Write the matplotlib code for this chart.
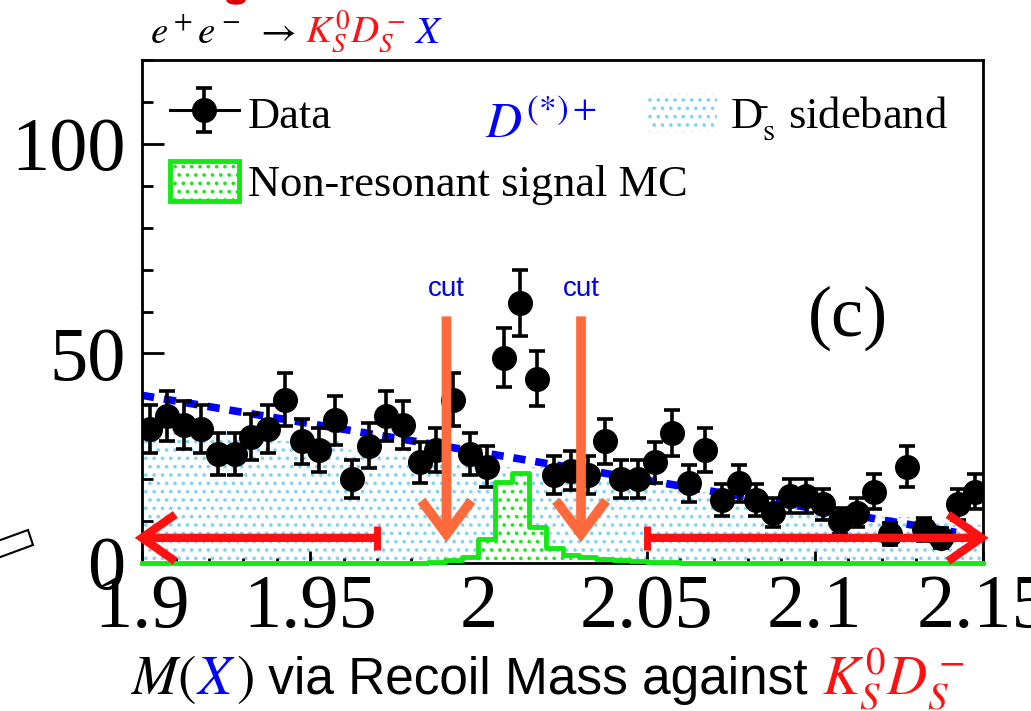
import numpy as np
import matplotlib
matplotlib.use("Agg")
import matplotlib.pyplot as plt
from matplotlib.patches import FancyArrowPatch, Patch, Polygon, Ellipse
from matplotlib.ticker import MultipleLocator, FixedLocator

plt.rcParams['mathtext.fontset'] = 'stix'
plt.rcParams['hatch.linewidth'] = 1.4

# ---- data ----
edge_lo = 1.90
bin_w = 0.005
counts = [32, 35, 33, 32, 26, 26, 30, 32, 39, 29, 27, 34, 20, 28, 35, 33, 24, 27, 39, 26,
          23, 49, 62, 44, 21, 22, 21, 29, 20, 20, 24, 31, 19, 27, 15, 19, 15, 12, 16, 16,
          14, 10, 12, 17, 7, 23, 8, 6, 14, 17]
sideband = [34, 33, 34, 32, 31, 32, 30, 31, 29, 30, 28, 29, 27, 28, 26, 27, 25, 26, 24, 25,
            23, 23, 22, 23, 21, 21, 20, 21, 19, 19, 18, 19, 17, 17, 16, 17, 15, 15, 14, 14,
            13, 13, 12, 12, 11, 11, 10, 10, 9, 9]
mc = [0, 0, 0, 0, 0, 0, 0, 0, 0, 0, 0, 0, 0, 0, 0, 0, 0, 0.3, 0.8, 1.5,
      5.7, 19.3, 21.4, 8.6, 3.6, 1.9, 1.4, 1.0, 0.7, 0.5, 0.3, 0.2, 0.1, 0, 0, 0, 0, 0, 0, 0,
      0, 0, 0, 0, 0, 0, 0, 0, 0, 0]
fit_x = [1.900, 2.142]
fit_y = [40.0, 7.3]
cut_x = [1.9905, 2.0305]
cut_top, cut_bottom = 59.5, 4.3
side_lo = [1.970, 1.8970]   # left region arrow: bar end, tip
side_hi = [2.050, 2.1525]   # right region arrow: bar end, tip
side_y = 6.0

n = len(counts)
edges = edge_lo + bin_w * np.arange(n + 1)
centers = edges[:-1] + bin_w / 2
counts = np.array(counts, float)
errs = np.sqrt(counts)

W, H = 1031, 711
fig = plt.figure(figsize=(W / 100, H / 100), dpi=100)
ax = fig.add_axes([142 / W, 1 - 563 / H, (983 - 142) / W, (563 - 60) / H])
ax.set_xlim(1.9, 2.15)
ax.set_ylim(0, 120)

blue_dot = '#7fd3f3'
green = '#16e816'
orange = '#ff6a3d'
red = '#ff1111'

# sideband histogram (dotted light blue)
sb = np.append(sideband, sideband[-1])
ax.fill_between(edges, 0, sb, step='post', facecolor='white', edgecolor=blue_dot,
                hatch='..', linewidth=0, zorder=1)

# signal MC histogram (green outline, green dots)
mcv = np.append(mc, mc[-1])
ax.fill_between(edges, 0, mcv, step='post', facecolor='white', edgecolor=green,
                hatch='..', linewidth=0, zorder=2)
ax.step(edges, mcv, where='post', color=green, lw=3.5, zorder=6, clip_on=False)

# fit line
ax.plot(fit_x, fit_y, color='#0000ff', lw=5.5, linestyle=(0, (1.6, 1.3)),
        solid_capstyle='butt', dash_capstyle='butt', zorder=3)

# data points
ax.errorbar(centers, counts, yerr=errs, fmt='o', color='black', ms=17, elinewidth=2.6,
            capsize=6, capthick=2.6, zorder=5)
ax.errorbar([np.nan], [np.nan], yerr=[1], fmt='o-', color='black', ms=17, lw=2.2,
            elinewidth=2.6, capsize=6, capthick=2.6, label='Data')

# cut arrows
for cx in cut_x:
    a = FancyArrowPatch((cx, cut_top), (cx, cut_bottom),
                        arrowstyle='->,head_length=0.6,head_width=0.45',
                        mutation_scale=40, lw=7, color=orange, zorder=7,
                        joinstyle='miter', capstyle='butt')
    ax.add_patch(a)
    ax.text(cx, 63.8, 'cut', color='#0000ee', fontsize=20, family='Liberation Sans',
            ha='center', va='baseline')

# side region arrows
for (bx, tx) in [side_lo, side_hi]:
    a = FancyArrowPatch((bx, side_y), (tx, side_y),
                        arrowstyle='->,head_length=0.6,head_width=0.42',
                        mutation_scale=40, lw=6.0, color=red, zorder=8, clip_on=False,
                        joinstyle='miter', capstyle='butt')
    ax.add_patch(a)
    ax.plot([bx, bx], [3.2, 8.8], color=red, lw=5.0, solid_capstyle='butt', zorder=8)

# axes style
for s in ax.spines.values():
    s.set_linewidth(2.0)
    s.set_zorder(4)
ax.xaxis.set_major_locator(FixedLocator([1.9, 1.95, 2.0, 2.05, 2.1, 2.15]))
ax.set_xticklabels(['1.9', '1.95', '2', '2.05', '2.1', '2.15'])
ax.xaxis.set_minor_locator(MultipleLocator(0.01))
ax.yaxis.set_major_locator(FixedLocator([0, 50, 100]))
ax.yaxis.set_minor_locator(MultipleLocator(10))
ax.tick_params(axis='both', which='both', direction='in', top=False, right=False, width=2.0)
ax.tick_params(axis='x', which='major', length=9, pad=8)
ax.tick_params(axis='x', which='minor', length=3.5)
ax.tick_params(axis='y', which='major', length=16, pad=12)
ax.tick_params(axis='y', which='minor', length=8)
for lab in ax.get_xticklabels() + ax.get_yticklabels():
    lab.set_fontfamily('Liberation Serif')
    lab.set_fontsize(55)

# legends
mc_handle = Patch(facecolor='white', edgecolor=green, hatch='..', lw=3.5,
                  label='Non-resonant signal MC')
h, l = ax.get_legend_handles_labels()
leg1 = ax.legend(h + [mc_handle], l + [mc_handle.get_label()], loc='upper left',
                 bbox_to_anchor=(-0.004, 0.997), frameon=False,
                 prop={'family': 'Liberation Serif', 'size': 32},
                 handlelength=1.55, handleheight=1.0, handletextpad=0.2, labelspacing=0.55,
                 borderpad=0.2)
ax.add_artist(leg1)
sb_handle = Patch(facecolor='white', edgecolor=blue_dot, hatch='..', lw=0,
                  label=r'D$_{\mathrm{s}}^{\bar{}}$ sideband')
leg2 = ax.legend(handles=[sb_handle], loc='upper left', bbox_to_anchor=(0.565, 0.997),
                 frameon=False, prop={'family': 'Liberation Serif', 'size': 32},
                 handlelength=1.55, handleheight=1.0, handletextpad=0.3, borderpad=0.2)

ax.text(2.002, 101.4, r'$D^{(*)+}$', color='#0000ff', fontsize=36, va='baseline')
ax.text(2.098, 54.3, '(c)', fontsize=52, family='Liberation Serif', va='baseline')

# multi-coloured title and x label
r = fig.canvas.get_renderer()


def colored_line(x, y, pieces):
    for s, c, fam, size in pieces:
        t = fig.text(x, y, s, color=c, fontsize=size, family=fam, va='baseline', ha='left')
        x += t.get_window_extent(r).width / fig.bbox.width


colored_line(150 / W, 1 - 43 / H, [
    (r'$e^+e^-\ \rightarrow$', 'black', 'DejaVu Sans', 28),
    (r'$\ K_S^0D_S^-$', red, 'DejaVu Sans', 28),
    (r'$\ X$', '#0000ff', 'DejaVu Sans', 28),
])
colored_line(130 / W, 1 - 694 / H, [
    (r'$M($', 'black', 'DejaVu Sans', 40),
    (r'$X$', '#0000ff', 'DejaVu Sans', 40),
    (r'$)$', 'black', 'DejaVu Sans', 40),
    (' via Recoil Mass against ', 'black', 'Liberation Sans', 37),
    (r'$K_S^0D_S^-$', red, 'DejaVu Sans', 40),
])

# small decorations cut off at the picture edges
fig.patches.append(Polygon([(-5 / W, 1 - 542 / H), (28 / W, 1 - 530 / H), (33 / W, 1 - 545 / H),
                            (-5 / W, 1 - 559 / H)], closed=True, facecolor='white',
                           edgecolor='black', lw=1.5, transform=fig.transFigure))
fig.patches.append(Ellipse((236 / W, 1.0), 18 / W, 8 / H, color='#dd0000',
                           transform=fig.transFigure))

fig.savefig('out.png', dpi=100)
